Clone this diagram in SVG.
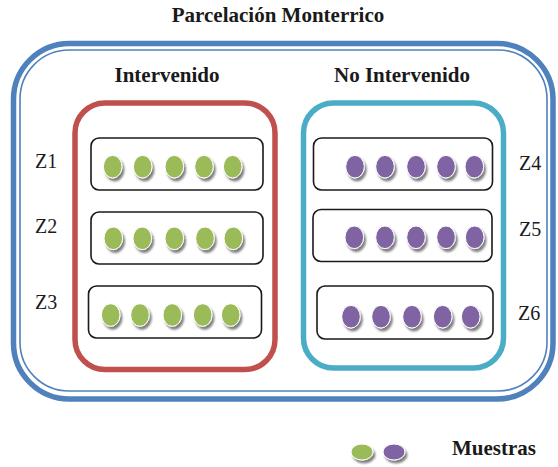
<svg xmlns="http://www.w3.org/2000/svg" width="558" height="467" viewBox="0 0 558 467">
<defs>
<style>
text{font-family:'Liberation Serif','DejaVu Serif',serif;fill:#1a1a1a}
.b{font-weight:bold;font-size:21px}
.z{font-size:20px}
.box{fill:#fff;stroke:#1a1a1a;stroke-width:1.6}
.g{fill:#9BBB59;stroke:#fff;stroke-width:1;filter:url(#sh)}
.p{fill:#8064A2;stroke:#fff;stroke-width:1;filter:url(#sh)}
</style>
<filter id="sh" x="-40%" y="-40%" width="190%" height="190%">
<feGaussianBlur in="SourceAlpha" stdDeviation="1"/>
<feOffset dx="2" dy="2.5" result="o"/>
<feComponentTransfer><feFuncA type="linear" slope="0.5"/></feComponentTransfer>
<feMerge><feMergeNode/><feMergeNode in="SourceGraphic"/></feMerge>
</filter>
<ellipse id="e" cx="0" cy="0" rx="9.3" ry="11.3"/>
</defs>
<rect width="558" height="467" fill="#fff"/>
<text class="b" font-family="Liberation Serif" x="278" y="22" text-anchor="middle">Parcelación Monterrico</text>
<g id="parcela">
<rect x="13.5" y="43.5" width="539.5" height="355.5" rx="56" fill="none" stroke="#4F81BD" stroke-width="5.5"/>
<rect x="20" y="50" width="527" height="341" rx="49" fill="none" stroke="#4F81BD" stroke-width="1.6"/>
</g>
<g id="intervenido">
<rect x="75" y="103" width="200" height="266.5" rx="30" fill="none" stroke="#C0504D" stroke-width="5.5"/>
<text class="b" font-family="Liberation Serif" x="167" y="82" text-anchor="middle">Intervenido</text>
</g>
<g id="no-intervenido">
<rect x="303.5" y="103" width="200" height="265" rx="30" fill="none" stroke="#4BACC6" stroke-width="5.5"/>
<text class="b" font-family="Liberation Serif" x="402" y="82" text-anchor="middle">No Intervenido</text>
</g>
<g id="z1">
<text class="z" font-family="Liberation Serif" x="35" y="168">Z1</text>
<rect class="box" x="91" y="138" width="172" height="52" rx="8"/>
<use href="#e" class="g" x="112.7" y="166.7"/><use href="#e" class="g" x="142.7" y="166.7"/><use href="#e" class="g" x="174.3" y="166.7"/><use href="#e" class="g" x="204" y="166.7"/><use href="#e" class="g" x="232.7" y="166.7"/>
</g>
<g id="z2">
<text class="z" font-family="Liberation Serif" x="35" y="233">Z2</text>
<rect class="box" x="91" y="212" width="172" height="52" rx="8"/>
<use href="#e" class="g" x="113.3" y="238.3"/><use href="#e" class="g" x="142.3" y="238.3"/><use href="#e" class="g" x="174.3" y="238.3"/><use href="#e" class="g" x="205" y="238.3"/><use href="#e" class="g" x="233.3" y="238.3"/>
</g>
<g id="z3">
<text class="z" font-family="Liberation Serif" x="35" y="309">Z3</text>
<rect class="box" x="88.5" y="286" width="173" height="52" rx="8"/>
<use href="#e" class="g" x="110.7" y="315"/><use href="#e" class="g" x="140" y="315"/><use href="#e" class="g" x="172.3" y="315"/><use href="#e" class="g" x="202.7" y="315"/><use href="#e" class="g" x="230.7" y="315"/>
</g>
<g id="z4">
<text class="z" font-family="Liberation Serif" x="519" y="170">Z4</text>
<rect class="box" x="313.5" y="138" width="179" height="52" rx="8"/>
<use href="#e" class="p" x="355" y="166.7"/><use href="#e" class="p" x="385" y="166.7"/><use href="#e" class="p" x="416" y="166.7"/><use href="#e" class="p" x="446" y="166.7"/><use href="#e" class="p" x="474.3" y="166.7"/>
</g>
<g id="z5">
<text class="z" font-family="Liberation Serif" x="519" y="236">Z5</text>
<rect class="box" x="313" y="209.5" width="179" height="52" rx="8"/>
<use href="#e" class="p" x="354.3" y="237.3"/><use href="#e" class="p" x="385" y="237.3"/><use href="#e" class="p" x="416" y="237.3"/><use href="#e" class="p" x="446" y="237.3"/><use href="#e" class="p" x="474.7" y="237.3"/>
</g>
<g id="z6">
<text class="z" font-family="Liberation Serif" x="518" y="320">Z6</text>
<rect class="box" x="317" y="286" width="176" height="53" rx="8"/>
<use href="#e" class="p" x="351" y="316.7"/><use href="#e" class="p" x="381" y="316.7"/><use href="#e" class="p" x="412" y="316.7"/><use href="#e" class="p" x="442.7" y="316.7"/><use href="#e" class="p" x="470.7" y="316.7"/>
</g>
<g id="leyenda">
<ellipse class="g" cx="362" cy="452" rx="11" ry="8"/>
<ellipse class="p" cx="394" cy="452" rx="11" ry="8"/>
<text class="b" font-family="Liberation Serif" x="452" y="455">Muestras</text>
</g>
<g id="connectors"/>
</svg>
